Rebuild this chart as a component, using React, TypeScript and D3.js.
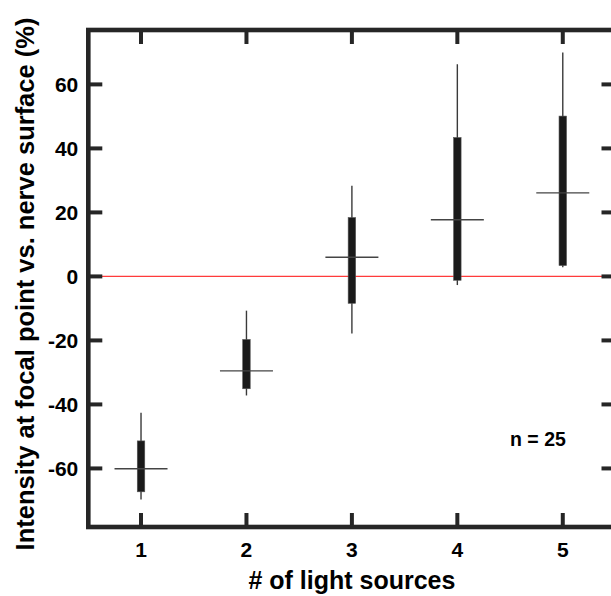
import React from "react";
import * as d3 from "d3";

const categories = [1, 2, 3, 4, 5];
const whiskerHigh = [-42.6, -10.7, 28.3, 66.3, 70.0];
const q3 = [-51.4, -19.7, 18.4, 43.4, 50.1];
const medians = [-60.1, -29.5, 6.0, 17.7, 26.1];
const q1 = [-67.3, -35.1, -8.4, -1.2, 3.4];
const whiskerLow = [-69.7, -37.2, -17.8, -2.7, 2.9];
const yTicks = [-60, -40, -20, 0, 20, 40, 60];
const xTicks = [1, 2, 3, 4, 5];
const annotation = "n = 25";
const xTitle = "# of light sources";
const yTitle = "Intensity at focal point vs. nerve surface (%)";

const W = 611;
const H = 596;
const L = 88.3, R = 615.5, T = 30, B = 527;
const FONT = "'Liberation Sans', Arial, Helvetica, sans-serif";
const AX = "#262626";

export default function App() {
  const x = d3.scaleLinear().domain([0.5, 5.5]).range([L, R]);
  const y = d3.scaleLinear().domain([-78.3, 77]).range([B, T]);
  const boxW = 7.5;
  const medHalf = 26.5;
  const tickLen = 14;
  return (
    <svg width={W} height={H} style={{ position: "absolute", left: 0, top: 0, background: "#fff" }}>
      {/* zero line */}
      <line x1={L} x2={R} y1={y(0)} y2={y(0)} stroke="#ff3b3b" strokeWidth={1.2} />
      {categories.map((c, i) => {
        const cx = x(c);
        return (
          <g key={c}>
            <line x1={cx} x2={cx} y1={y(whiskerHigh[i])} y2={y(whiskerLow[i])} stroke="#3a3a3a" strokeWidth={1.4} />
            <rect x={cx - boxW / 2} y={y(q3[i])} width={boxW} height={y(q1[i]) - y(q3[i])} fill="#1a1a1a" stroke="#555" strokeWidth={0.6} />
            <line x1={cx - medHalf} x2={cx + medHalf} y1={y(medians[i])} y2={y(medians[i])} stroke="#444" strokeWidth={1.4} />
          </g>
        );
      })}
      {/* ticks */}
      {yTicks.map((t) => (
        <g key={"y" + t}>
          <line x1={L} x2={L + tickLen} y1={y(t)} y2={y(t)} stroke={AX} strokeWidth={4} />
          <line x1={R - tickLen} x2={R} y1={y(t)} y2={y(t)} stroke={AX} strokeWidth={4} />
          <text x={L - 10} y={y(t)} dy="0.36em" textAnchor="end" fontFamily={FONT} fontWeight="bold" fontSize={21} fill="#000">
            {t}
          </text>
        </g>
      ))}
      {xTicks.map((t) => (
        <g key={"x" + t}>
          <line x1={x(t)} x2={x(t)} y1={B} y2={B - tickLen} stroke={AX} strokeWidth={4} />
          <line x1={x(t)} x2={x(t)} y1={T} y2={T + tickLen} stroke={AX} strokeWidth={4} />
          <text x={x(t)} y={557} textAnchor="middle" fontFamily={FONT} fontWeight="bold" fontSize={21} fill="#000">
            {t}
          </text>
        </g>
      ))}
      {/* frame */}
      <rect x={L} y={T} width={R - L} height={B - T} fill="none" stroke={AX} strokeWidth={4.6} />
      <text x={510} y={445.7} fontFamily={FONT} fontWeight="bold" fontSize={19.5} fill="#000">
        {annotation}
      </text>
      <text x={(L + R) / 2} y={589} textAnchor="middle" fontFamily={FONT} fontWeight="bold" fontSize={25} fill="#000">
        {xTitle}
      </text>
      <text transform={`translate(33.5,${284}) rotate(-90)`} textAnchor="middle" fontFamily={FONT} fontWeight="bold" fontSize={25.5} fill="#000">
        {yTitle}
      </text>
    </svg>
  );
}
